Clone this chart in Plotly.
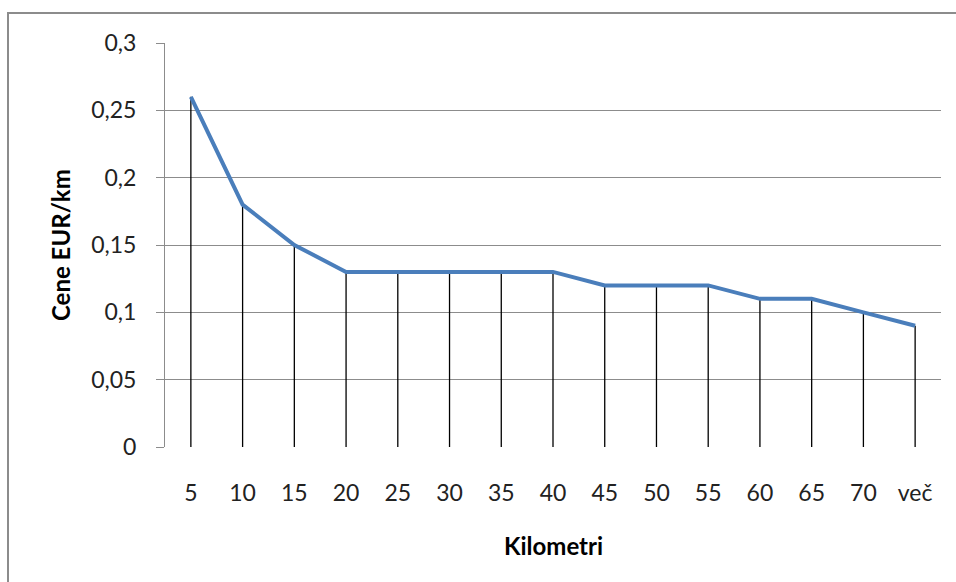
import plotly.graph_objects as go

categories = ["5", "10", "15", "20", "25", "30", "35", "40", "45", "50", "55", "60", "65", "70", "več"]
prices = [0.26, 0.18, 0.15, 0.13, 0.13, 0.13, 0.13, 0.13, 0.12, 0.12, 0.12, 0.11, 0.11, 0.10, 0.09]
y_ticks = [0, 0.05, 0.1, 0.15, 0.2, 0.25, 0.3]
y_tick_labels = ["0", "0,05", "0,1", "0,15", "0,2", "0,25", "0,3"]

FONT = "Lato"
TICK_SIZE = 23
TITLE_SIZE = 24

fig = go.Figure()
# drop lines from each point to the axis
fig.add_trace(go.Scatter(
    x=categories, y=prices, mode="markers",
    marker=dict(size=1, color="rgba(0,0,0,0)"),
    error_y=dict(type="data", symmetric=False, array=[0] * len(prices),
                 arrayminus=prices, color="black", thickness=1.3, width=0),
    hoverinfo="skip", showlegend=False,
))
fig.add_trace(go.Scatter(
    x=categories, y=prices, mode="lines",
    line=dict(color="#4A7EBB", width=4),
    showlegend=False,
))

L, R, T, B = 165, 15, 43, 135
W, H = 956, 582
pw, ph = W - L - R, H - T - B

fig.update_layout(
    width=W, height=H,
    margin=dict(l=L, r=R, t=T, b=B),
    paper_bgcolor="white", plot_bgcolor="white",
    font=dict(family=FONT, size=TICK_SIZE, color="#1a1a1a"),
    xaxis=dict(
        type="category", range=[-0.5, len(categories) - 0.5],
        showgrid=False, showline=False, zeroline=False,
        ticks="", ticklabelstandoff=30,
        tickfont=dict(family=FONT, size=TICK_SIZE, color="#222222"),
    ),
    yaxis=dict(
        range=[0, 0.3], tickvals=y_ticks, ticktext=y_tick_labels,
        showgrid=True, gridcolor="#8c8c8c", gridwidth=1,
        showline=True, linecolor="#8c8c8c", linewidth=1,
        zeroline=False,
        ticks="outside", ticklen=8, tickcolor="#8c8c8c",
        ticklabelstandoff=15,
        tickfont=dict(family=FONT, size=TICK_SIZE, color="#222222"),
    ),
    annotations=[
        dict(text="<b>Cene EUR/km</b>", xref="paper", yref="paper",
             x=(60 - L) / pw, y=(H - B - 245) / ph, textangle=-90, showarrow=False,
             font=dict(family=FONT, size=TITLE_SIZE, color="#000000"),
             xanchor="center", yanchor="middle"),
        dict(text="<b>Kilometri</b>", xref="paper", yref="paper",
             x=0.5, y=-(545 - (H - B)) / ph, showarrow=False,
             font=dict(family=FONT, size=TITLE_SIZE, color="#000000"),
             xanchor="center", yanchor="middle"),
    ],
    shapes=[
        dict(type="rect", xref="paper", yref="paper",
             x0=(8 - L) / pw, x1=(970 - L) / pw,
             y0=-(600 - (H - B)) / ph, y1=1 + (T - 13) / ph,
             line=dict(color="#8c8c8c", width=2), layer="below"),
    ],
)

fig.write_html("out.html", config={"displayModeBar": False},
               post_script="document.body.style.margin='0';document.body.style.overflow='hidden';")
